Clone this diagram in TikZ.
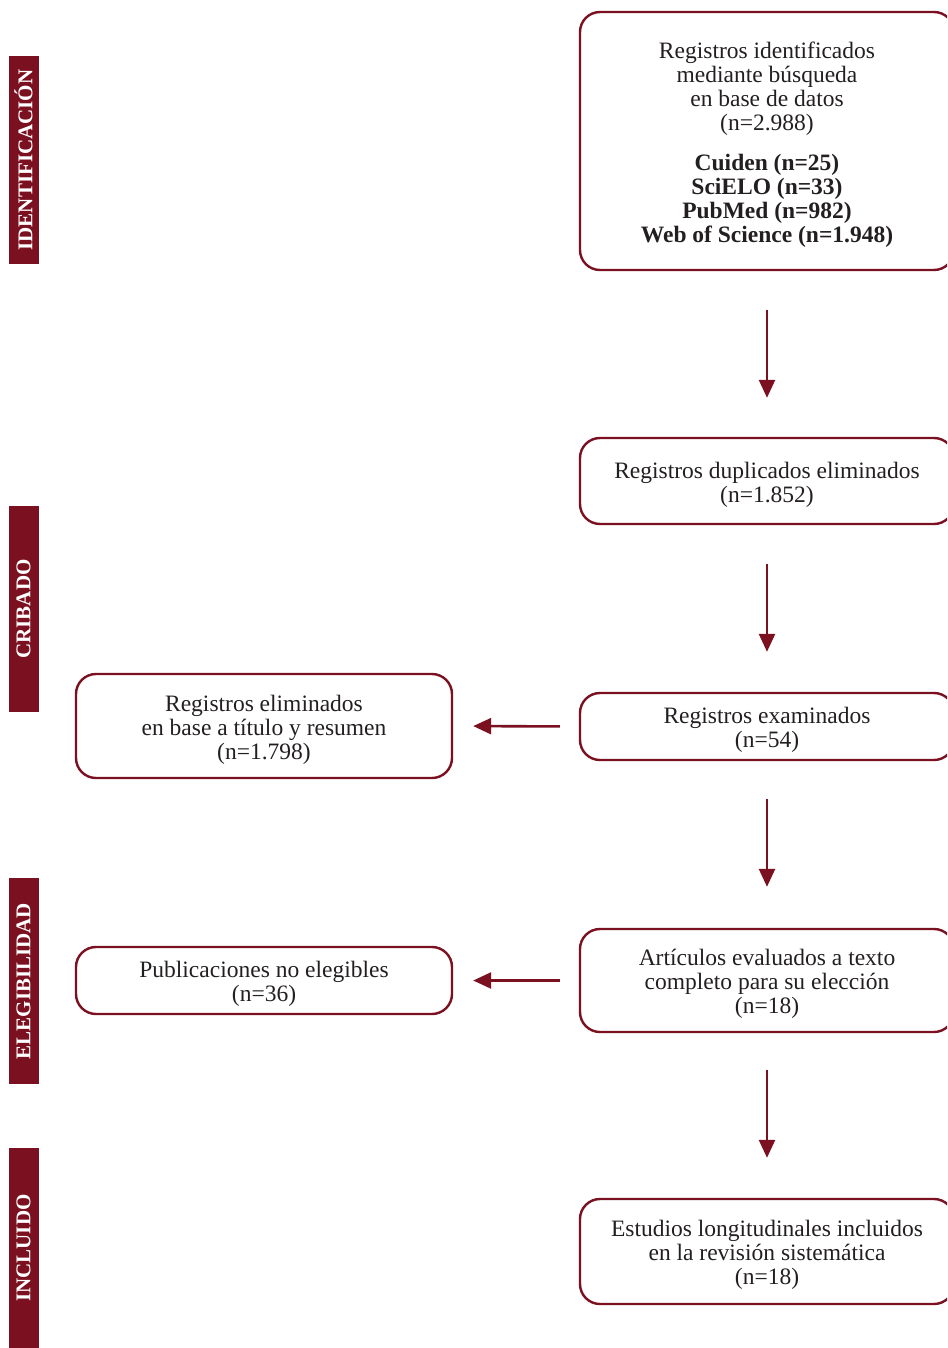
\documentclass[tikz,border=0pt]{standalone}
\usepackage{fontspec}
\setmainfont{Liberation Serif}
\usetikzlibrary{arrows.meta}
\definecolor{maroon}{RGB}{122,16,32}
\definecolor{ink}{RGB}{35,31,32}
\tikzset{
  box/.style={draw=maroon, line width=2.4pt, rounded corners=20pt, inner sep=0pt},
  boxtext/.style={align=center, inner sep=0pt, text=ink, yshift=-3.5pt,
    font=\fontsize{23.5}{24}\selectfont},
  side/.style={fill=maroon, minimum width=30pt, inner sep=0pt},
  sidetext/.style={rotate=90, text=white, font=\bfseries\fontsize{21}{24}\selectfont},
  flow/.style={draw=maroon, line width=2.6pt, -{Triangle[length=18pt,width=16pt]}},
}
\begin{document}
\begin{tikzpicture}[x=1pt,y=-1pt]
\useasboundingbox (0,0) rectangle (947,1348);
\clip (0,0) rectangle (947,1348);
% side bars
\node[side, minimum height=208pt] (s1) at (23.5,160) {};
\node[sidetext] (t1) at (s1.center) {IDENTIFICACIÓN};
\node[side, minimum height=206pt] (s2) at (23.5,609) {};
\node[sidetext] (t2) at (s2.center) {CRIBADO};
\node[side, minimum height=206pt] (s3) at (23.5,981) {};
\node[sidetext] (t3) at (s3.center) {ELEGIBILIDAD};
\node[side, minimum height=201pt] (s4) at (23.5,1248) {};
\node[sidetext] (t4) at (s4.center) {INCLUIDO};
% right column
\node[box, minimum width=374pt, minimum height=258pt] (b1) at (767,141) {};
\node[boxtext] (b1t) at (b1.center)
  {Registros identificados\\mediante búsqueda\\en base de datos\\(n=2.988)\\[16pt]
   \textbf{Cuiden (n=25)}\\\textbf{SciELO (n=33)}\\\textbf{PubMed (n=982)}\\\textbf{Web of Science (n=1.948)}};
\node[box, minimum width=374pt, minimum height=86pt] (b2) at (767,481) {};
\node[boxtext] (b2t) at (b2.center) {Registros duplicados eliminados\\(n=1.852)};
\node[box, minimum width=374pt, minimum height=67pt] (b3) at (767,726.5) {};
\node[boxtext] (b3t) at (b3.center) {Registros examinados\\(n=54)};
\node[box, minimum width=374pt, minimum height=103pt] (b4) at (767,980.5) {};
\node[boxtext] (b4t) at (b4.center) {Artículos evaluados a texto\\completo para su elección\\(n=18)};
\node[box, minimum width=374pt, minimum height=105pt] (b5) at (767,1251.5) {};
\node[boxtext] (b5t) at (b5.center) {Estudios longitudinales incluidos\\en la revisión sistemática\\(n=18)};
% left column
\node[box, minimum width=376pt, minimum height=104pt] (l1) at (264,726) {};
\node[boxtext] (l1t) at (l1.center) {Registros eliminados\\en base a título y resumen\\(n=1.798)};
\node[box, minimum width=376pt, minimum height=67pt] (l2) at (264,980.5) {};
\node[boxtext] (l2t) at (l2.center) {Publicaciones no elegibles\\(n=36)};
% arrows
\draw[flow, shorten <=39pt, shorten >=39pt] (b1.south) -- (b2.north);
\draw[flow, shorten <=39pt, shorten >=40pt] (b2.south) -- (b3.north);
\draw[flow, shorten <=38pt, shorten >=41pt] (b3.south) -- (b4.north);
\draw[flow, shorten <=37pt, shorten >=40pt] (b4.south) -- (b5.north);
\draw[flow, shorten <=19pt, shorten >=20pt] (b3.west) -- (l1.east);
\draw[flow, shorten <=19pt, shorten >=20pt] (b4.west) -- (l2.east);
\end{tikzpicture}
\end{document}
